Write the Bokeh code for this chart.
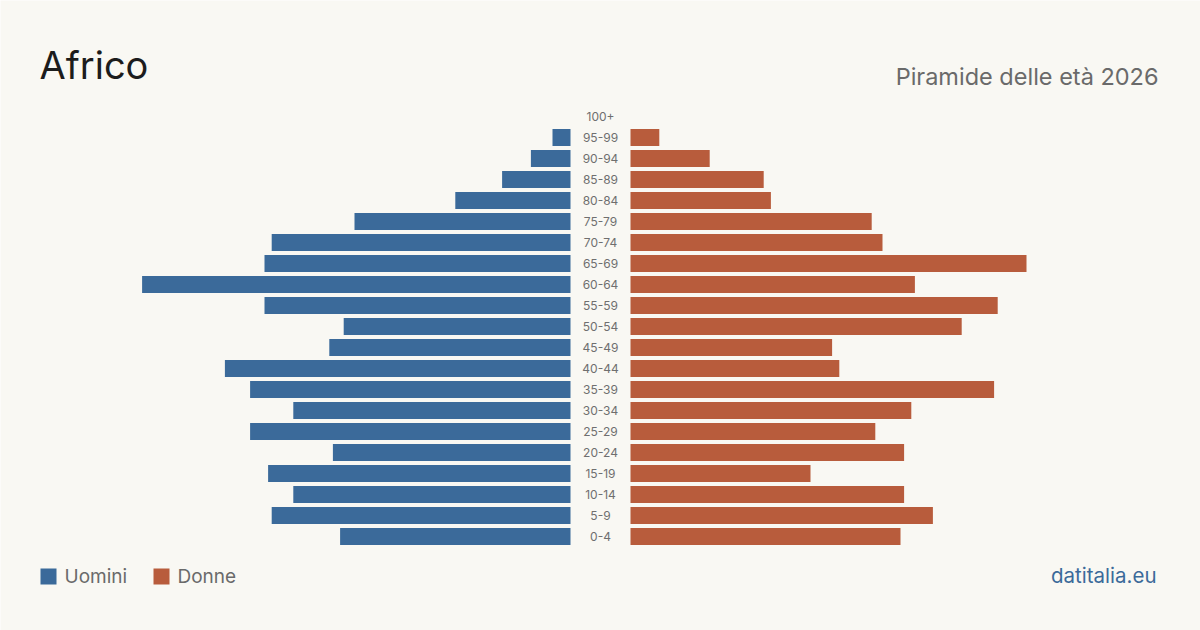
from bokeh.plotting import figure
from bokeh.models import ColumnDataSource, Range1d, Label
from bokeh.core.properties import value
from bokeh.embed import file_html
from bokeh.resources import INLINE

# Age classes, youngest first
age_groups = ["0-4", "5-9", "10-14", "15-19", "20-24", "25-29", "30-34", "35-39",
              "40-44", "45-49", "50-54", "55-59", "60-64", "65-69", "70-74",
              "75-79", "80-84", "85-89", "90-94", "95-99", "100+"]
men = [64, 83, 77, 84, 66, 89, 77, 89, 96, 67, 63, 85, 119, 85, 83, 60, 32, 19, 11, 5, 0]
women = [75, 84, 76, 50, 76, 68, 78, 101, 58, 56, 92, 102, 79, 110, 70, 67, 39, 37, 22, 8, 0]

BG = "#f9f8f3"
BLUE = "#3b6a9a"
RED = "#b85c3c"
W, H = 1200, 630
PX = 3.6            # pixels per person
HALF_GAP = 30 / PX  # room for the age labels in the middle
ROW = 21            # pixels per age class
TOP_ROW_Y = 116     # screen y of the "100+" row
BOTTOM_ROW_Y = TOP_ROW_Y + 20 * ROW

rows = list(range(len(age_groups)))
src = ColumnDataSource(dict(
    y=rows,
    age=age_groups,
    m_left=[-HALF_GAP - v for v in men],
    m_right=[-HALF_GAP] * len(men),
    w_left=[HALF_GAP] * len(women),
    w_right=[HALF_GAP + v for v in women],
    zero=[0] * len(rows),
))

y0 = -(H - BOTTOM_ROW_Y) / ROW
p = figure(width=W, height=H, output_backend="svg", toolbar_location=None,
           x_range=Range1d(-W / 2 / PX, W / 2 / PX),
           y_range=Range1d(y0, y0 + H / ROW),
           min_border=0, background_fill_color=BG, border_fill_color=BG)
p.axis.visible = False
p.grid.visible = False
p.outline_line_color = None

p.hbar(y="y", left="m_left", right="m_right", height=17 / ROW, source=src,
       fill_color=BLUE, line_color=None)
p.hbar(y="y", left="w_left", right="w_right", height=17 / ROW, source=src,
       fill_color=RED, line_color=None)
p.text(x="zero", y="y", text="age", source=src, text_align="center",
       text_baseline="middle", text_font=value("Inter"), text_font_size="12px",
       text_color="#6f6f6f")

def lbl(x, y, text, size, color, align="left", font="Inter"):
    # y is the wanted baseline, from the top of the canvas
    shift = 0.4 * size
    p.add_layout(Label(x=x, y=H - y + shift, x_units="screen", y_units="screen", text=text,
                       text_font=font, text_font_size=f"{size}px", text_color=color,
                       text_align=align, text_baseline="alphabetic"))

lbl(39, 80, "Africo", 38, "#1c1c1c")
lbl(1158, 85, "Piramide delle età 2026", 23.5, "#6a6a6a", align="right")
lbl(1156, 583, "datitalia.eu", 20.5, BLUE, align="right")
lbl(64, 584, "Uomini", 19, "#6a6a6a")
lbl(177, 584, "Donne", 19, "#6a6a6a")

# legend swatches
sw_y = y0 + (H - 576) / ROW
p.rect(x=[(48 - W / 2) / PX, (161 - W / 2) / PX], y=[sw_y, sw_y],
       width=16 / PX, height=16 / ROW, fill_color=[BLUE, RED], line_color=None)

open("out.html", "w").write(file_html(p, INLINE))
